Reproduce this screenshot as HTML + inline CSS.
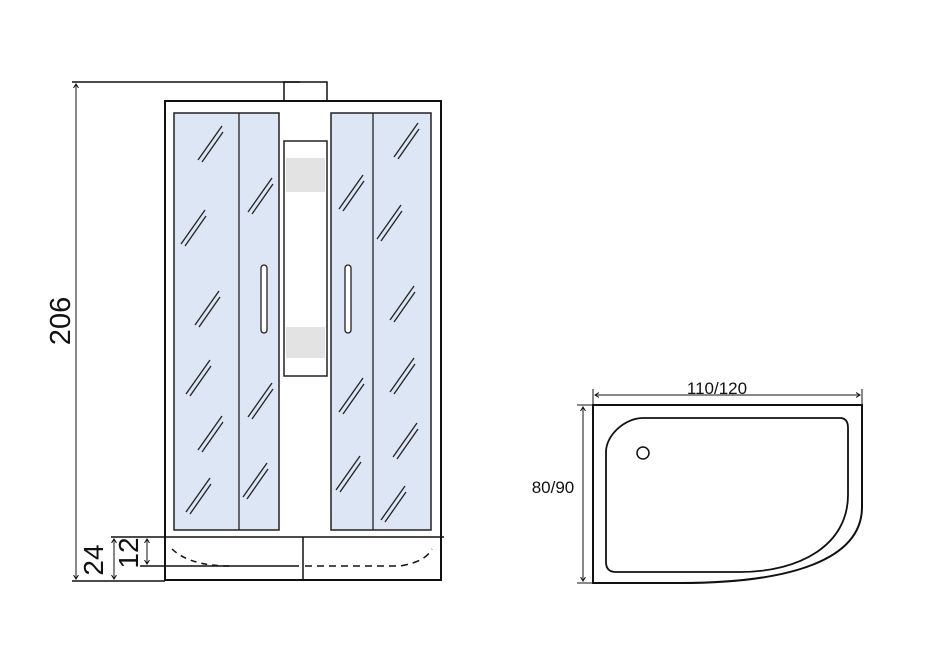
<!DOCTYPE html>
<html><head><meta charset="utf-8"><style>
html,body{margin:0;padding:0;background:#fff;}
svg{display:block;}
text{font-family:"Liberation Sans",Arial,sans-serif;fill:#111;}
</style></head><body>
<svg width="945" height="665" viewBox="0 0 945 665" xmlns="http://www.w3.org/2000/svg">
<defs>
<marker id="a" markerWidth="8" markerHeight="8" refX="4" refY="4" orient="auto-start-reverse" markerUnits="userSpaceOnUse">
<path d="M0,1.5 L4,4 L0,6.5" fill="none" stroke="#111" stroke-width="1"/>
</marker>
<g id="s" stroke="#222" stroke-width="1.3" fill="none">
<line x1="-12" y1="17" x2="12" y2="-17"/>
<line x1="-8" y1="19" x2="13" y2="-11"/>
</g>
</defs>
<g stroke="#111" fill="none" stroke-width="1.5">
<!-- 206 dimension -->
<line x1="72" y1="82" x2="300" y2="82"/>
<line x1="76" y1="84" x2="76" y2="579" marker-start="url(#a)" marker-end="url(#a)" stroke-width="1"/>
<line x1="72" y1="581" x2="165" y2="581"/>
<!-- top box -->
<rect x="284" y="82" width="43" height="19"/>
<!-- frame -->
<rect x="165" y="101" width="276" height="479" stroke-width="2"/>
</g>
<!-- panels -->
<g stroke="#222" stroke-width="1.5" fill="#dde6f4">
<rect x="174" y="113" width="105" height="417"/>
<rect x="331" y="113" width="100" height="417"/>
</g>
<g stroke="#222" stroke-width="1.3">
<line x1="239" y1="113" x2="239" y2="530"/>
<line x1="373" y1="113" x2="373" y2="530"/>
</g>
<rect x="284" y="141" width="43" height="235" fill="#fff" stroke="#222" stroke-width="1.5"/>
<rect x="286" y="158" width="39" height="34" fill="#e3e3e3"/>
<rect x="286" y="327" width="39" height="31" fill="#e3e3e3"/>
<g fill="#fff" stroke="#222" stroke-width="1.3">
<rect x="261" y="265" width="6" height="68" rx="3"/>
<rect x="345" y="265" width="6" height="68" rx="3"/>
</g>
<use href="#s" x="210" y="143"/><use href="#s" x="193" y="227"/><use href="#s" x="207" y="308"/>
<use href="#s" x="198" y="377"/><use href="#s" x="210" y="433"/><use href="#s" x="198" y="495"/>
<use href="#s" x="260" y="195"/><use href="#s" x="260" y="400"/><use href="#s" x="255" y="480"/>
<use href="#s" x="351" y="192"/><use href="#s" x="351" y="395"/><use href="#s" x="348" y="473"/>
<use href="#s" x="406" y="140"/><use href="#s" x="389" y="222"/><use href="#s" x="402" y="303"/>
<use href="#s" x="402" y="375"/><use href="#s" x="405" y="440"/><use href="#s" x="393" y="503"/>
<!-- base -->
<g stroke="#111" fill="none" stroke-width="1.5">
<line x1="111" y1="537" x2="444" y2="537"/>
<line x1="303" y1="537" x2="303" y2="580"/>
<line x1="140" y1="566" x2="299" y2="566"/>
<path d="M172,549 Q190,566 230,566" stroke-dasharray="6,5"/>
<path d="M305,566 L400,566 Q425,562 432,549" stroke-dasharray="7,5"/>
<line x1="114" y1="539" x2="114" y2="579" marker-start="url(#a)" marker-end="url(#a)" stroke-width="1"/>
<line x1="147" y1="539" x2="147" y2="564" marker-start="url(#a)" marker-end="url(#a)" stroke-width="1"/>
</g>
<text transform="translate(70,321) rotate(-90)" font-size="29" text-anchor="middle">206</text>
<text transform="translate(103,560) rotate(-90)" font-size="28" text-anchor="middle">24</text>
<text transform="translate(138,553) rotate(-90)" font-size="28" text-anchor="middle">12</text>
<!-- tray -->
<g stroke="#111" fill="none" stroke-width="1.5">
<line x1="593" y1="389" x2="593" y2="405" stroke-width="1"/>
<line x1="862" y1="389" x2="862" y2="405" stroke-width="1"/>
<line x1="595" y1="395" x2="860" y2="395" marker-start="url(#a)" marker-end="url(#a)" stroke-width="1"/>
<line x1="577" y1="405" x2="593" y2="405" stroke-width="1"/>
<line x1="577" y1="583" x2="593" y2="583" stroke-width="1"/>
<line x1="583" y1="407" x2="583" y2="581" marker-start="url(#a)" marker-end="url(#a)" stroke-width="1"/>
<path d="M593,405 L862,405 L862,507 C862,560 790,583 680,583 L593,583 Z" stroke-width="2"/>
<path d="M606,452 C606,435 625,418 643,418 L840,418 Q848,418 848,428 L848,495 C848,545 800,572 740,572 L616,572 Q606,572 606,562 Z" stroke-width="1.8"/>
<circle cx="643" cy="453" r="6" stroke-width="1.5"/>
</g>
<text x="717" y="394" font-size="17" text-anchor="middle">110/120</text>
<text x="553" y="493" font-size="17" text-anchor="middle">80/90</text>
</svg>
</body></html>
